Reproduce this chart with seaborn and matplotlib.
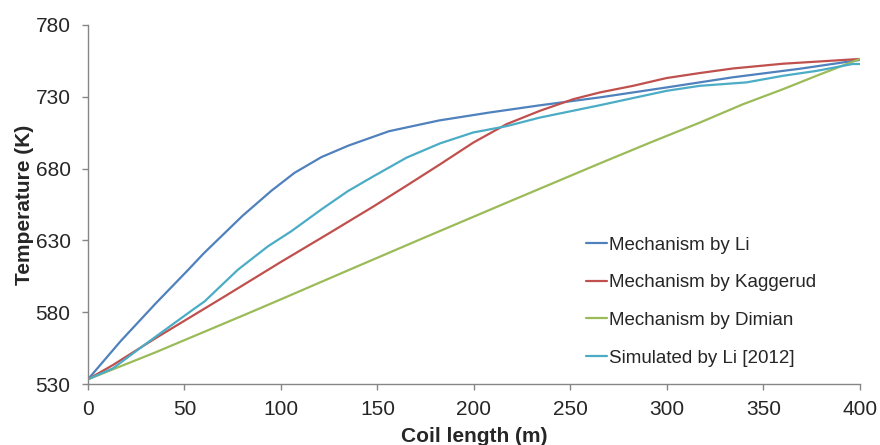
import matplotlib
matplotlib.use("Agg")
import matplotlib.pyplot as plt
import seaborn as sns
import pandas as pd

# Data
li_x = [0, 17, 35, 52, 60, 70, 80, 95, 107, 121, 135, 156, 182, 208, 234, 265, 300, 334, 369, 400]
li_y = [533.3, 560, 586, 609.6, 621, 634, 647, 664.5, 677, 688, 696, 706, 713.5, 719, 724, 729.5, 736.5, 743.5, 749.5, 755.6]

kag_x = [0, 13, 34.5, 69, 100, 125, 147.8, 165, 182.4, 199.6, 216.9, 234.2, 251.5, 265.3, 282.5, 299.8, 317.1, 334.4, 360.3, 400]
kag_y = [533.3, 543.3, 561.5, 589.5, 615, 635, 653.5, 668, 682.9, 698, 710.9, 720.2, 728.3, 733, 737.6, 743, 746.5, 749.7, 753, 756.3]

dim_x = [0, 34.5, 81.2, 99.5, 134.7, 172, 216.9, 265.3, 291.2, 317.1, 339.5, 360.3, 377.6, 400]
dim_y = [533.3, 551.8, 578.2, 588.7, 609.1, 630.6, 656.2, 683.6, 698, 712, 724.8, 735.3, 744.6, 756.3]

sim_x = [0, 13, 30.4, 54.6, 60.4, 77.7, 93.3, 105.4, 120.9, 134.7, 147.8, 165.1, 182.4, 199.6, 216.9, 234.2, 265.3, 299.8, 317.1, 341.3, 360.3, 377.6, 396.4, 400]
sim_y = [533.3, 541, 558.4, 582, 587.5, 609.6, 625.9, 636.4, 651.5, 664.3, 674.5, 687.6, 697.5, 705.1, 709.5, 715.5, 724.1, 734.1, 737.6, 740, 744.6, 748, 752.8, 752.8]

series_names = ["Mechanism by Li", "Mechanism by Kaggerud", "Mechanism by Dimian", "Simulated by Li [2012]"]
colors = ["#4F81BD", "#C0504D", "#9BBB59", "#4BACC6"]

frames = []
for name, xs, ys in zip(series_names, [li_x, kag_x, dim_x, sim_x], [li_y, kag_y, dim_y, sim_y]):
    frames.append(pd.DataFrame({"x": xs, "y": ys, "series": name}))
df = pd.concat(frames, ignore_index=True)

sns.set_style("ticks")
plt.rcParams['font.family'] = ['Liberation Sans', 'DejaVu Sans']

fig = plt.figure(figsize=(8.8, 4.45), dpi=100)
ax = fig.add_axes([0.1, 0.137, 0.877, 0.807])

sns.lineplot(data=df, x="x", y="y", hue="series", hue_order=series_names,
             palette=colors, linewidth=1.6, ax=ax, sort=False, estimator=None)

ax.set_xlim(0, 400)
ax.set_ylim(530, 780)
ax.set_xticks(range(0, 401, 50))
ax.set_yticks(range(530, 781, 50))
ax.tick_params(axis='both', labelsize=15, length=4.5, width=1, color='#868686', direction='out')
ax.tick_params(axis='x', pad=7)
ax.tick_params(axis='y', pad=8)
for s in ['top', 'right']:
    ax.spines[s].set_visible(False)
for s in ['left', 'bottom']:
    ax.spines[s].set_color('#868686')
    ax.spines[s].set_linewidth(1)

ax.set_xlabel("Coil length (m)", fontsize=15, fontweight='bold', labelpad=6)
ax.set_ylabel("Temperature (K)", fontsize=15, fontweight='bold', labelpad=1)

leg = ax.legend(loc='upper left', bbox_to_anchor=(0.624, 0.458), frameon=False,
                fontsize=13.5, labelspacing=1.1, handlelength=1.12, handletextpad=0.1)
for line in leg.get_lines():
    line.set_linewidth(1.6)

fig.savefig("out.png", dpi=100)
